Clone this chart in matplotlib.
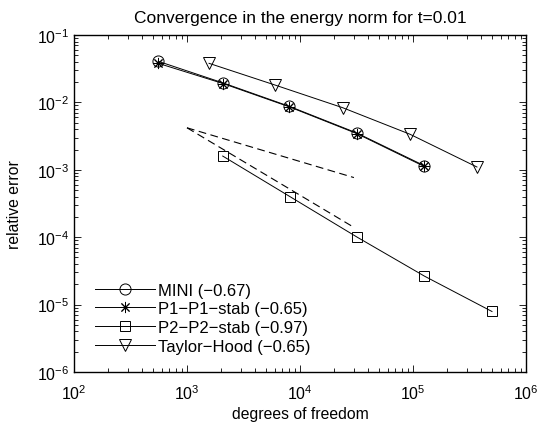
import matplotlib
matplotlib.use("Agg")
import matplotlib.pyplot as plt
import numpy as np

plt.rcParams['font.family'] = ['Liberation Sans', 'DejaVu Sans']
plt.rcParams['mathtext.default'] = 'regular'

# data -------------------------------------------------------------------------
mini_dof = [557, 2094, 8035, 31770, 125900]
mini_err = [0.0407, 0.0194, 0.00875, 0.00352, 0.00115]

p1_dof = [557, 2094, 8035, 31770, 125900]
p1_err = [0.0380, 0.0190, 0.0086, 0.00345, 0.00112]

p2_dof = [2070, 8170, 31770, 126000, 500000]
p2_err = [0.0016, 0.000399, 0.000101, 2.65e-5, 7.9e-6]

th_dof = [1567, 6010, 23880, 94000, 368000]
th_err = [0.038, 0.0181, 0.00834, 0.00337, 0.0011]

# reference slopes (dashed)
ref_dof = [1000, 30000]
ref_half = [0.0042, 0.0042 * 30 ** -0.5]
ref_one = [0.0042, 0.0042 / 30.0]

labels = ['MINI (\u22120.67)', 'P1\u2212P1\u2212stab (\u22120.65)',
          'P2\u2212P2\u2212stab (\u22120.97)', 'Taylor\u2212Hood (\u22120.65)']

fig = plt.figure(figsize=(5.4, 4.27), dpi=100)
ax = fig.add_axes([74 / 540., 1 - 373 / 427., 452 / 540., 337 / 427.])

lw = 0.7
ax.loglog(mini_dof, mini_err, 'k-', marker='o', mfc='none', ms=8, lw=lw,
          mew=0.7, label=labels[0])
ax.loglog(p1_dof, p1_err, 'k-', marker=(8, 2, 0), ms=8, lw=lw,
          mew=0.7, label=labels[1])
ax.loglog(p2_dof, p2_err, 'k-', marker='s', mfc='none', ms=7, lw=lw,
          mew=0.7, label=labels[2])
ax.loglog(th_dof, th_err, 'k-', marker='v', mfc='none', ms=9, lw=lw,
          mew=0.7, label=labels[3])
ax.loglog(ref_dof, ref_half, 'k', lw=0.8, dashes=(7, 4))
ax.loglog(ref_dof, ref_one, 'k', lw=0.8, dashes=(7, 4))

ax.set_xlim(1e2, 1e6)
ax.set_ylim(1e-6, 1e-1)
ax.tick_params(which='both', direction='in', top=True, right=True,
               labelsize=11.5, width=0.6)
ax.tick_params(axis='x', pad=8)
ax.tick_params(which='major', length=5)
ax.tick_params(which='minor', length=3)
for s in ax.spines.values():
    s.set_linewidth(1.0)

ax.set_title('Convergence in the energy norm for t=0.01', fontsize=12.5, pad=9)
ax.set_xlabel('degrees of freedom', fontsize=11.3, labelpad=3)
ax.set_ylabel('relative error', fontsize=11.3, labelpad=11)

ax.legend(loc='lower left', frameon=False, fontsize=12, handlelength=3.6,
          handletextpad=0.2, labelspacing=0.22, borderaxespad=0.3,
          bbox_to_anchor=(0.02, 0.02))

fig.savefig('out.png', dpi=100)
